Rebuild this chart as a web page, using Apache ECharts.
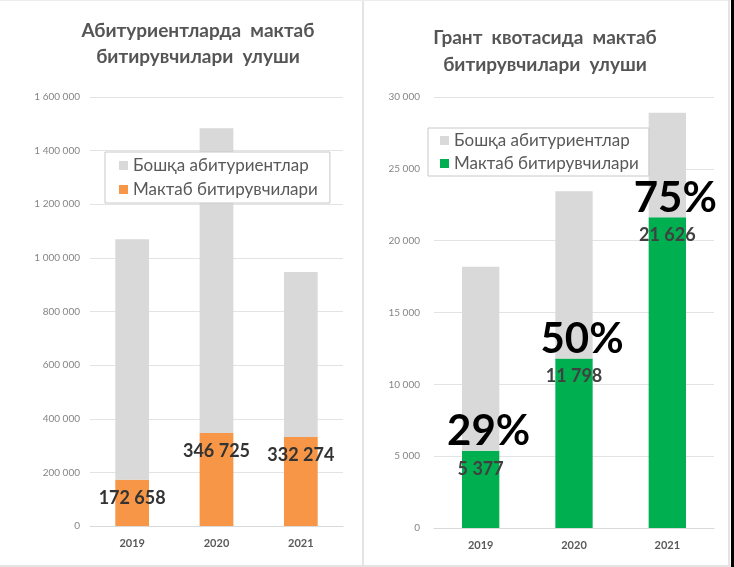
<!DOCTYPE html>
<html>
<head>
<meta charset="utf-8">
<script src="https://cdn.jsdelivr.net/npm/echarts@6/dist/echarts.min.js"></script>
<style>
  html, body { margin: 0; padding: 0; background: #fff; }
  #main { width: 734px; height: 567px; }
</style>
</head>
<body>
<div id="main"></div>
<script>
// years on both charts
var years = ['2019', '2020', '2021'];

// left chart: all applicants
var schoolAll = [172658, 346725, 332274];
var otherAll = [897000, 1137000, 615000];

// right chart: grant quota
var schoolGrant = [5377, 11798, 21626];
var otherGrant = [12800, 11650, 7270];
var grantPct = ['29%', '50%', '75%'];

var nameOther = 'Бошқа абитуриентлар';
var nameSchool = 'Мактаб битирувчилари';

function spaced(v) {
    return String(v).replace(/\B(?=(\d{3})+(?!\d))/g, ' ');
}

var myChart = echarts.init(document.getElementById('main'));

var axisLabelY = { color: '#858585', fontSize: 10, formatter: spaced };
var splitLineY = { lineStyle: { color: '#e3e3e3', width: 1 } };
var xAxisBase = {
    type: 'category',
    data: years,
    axisLine: { lineStyle: { color: '#d9d9d9' } },
    axisTick: { show: false },
    axisLabel: { color: '#595959', fontSize: 11, fontWeight: 'bold', margin: 12 }
};

var option = {
    textStyle: { fontFamily: 'Lato' },
    title: [{
        text: 'Абитуриентларда  мактаб\nбитирувчилари  улуши',
        left: 193, top: 13, textAlign: 'center',
        textStyle: { fontSize: 19, fontWeight: 'bold', color: '#555', lineHeight: 26 }
    }, {
        text: 'Грант  квотасида  мактаб\nбитирувчилари  улуши',
        left: 540, top: 19, textAlign: 'center',
        textStyle: { fontSize: 19, fontWeight: 'bold', color: '#555', lineHeight: 27 }
    }],
    legend: [{
        data: [nameOther, nameSchool],
        left: 105, top: 152,
        orient: 'vertical',
        itemWidth: 9, itemHeight: 9, itemGap: 7,
        padding: [5, 12, 5, 14],
        backgroundColor: '#fff',
        borderColor: '#c8c8c8', borderWidth: 1,
        icon: 'rect',
        selectedMode: false,
        textStyle: { fontSize: 17, color: '#595959' }
    }, {
        data: [nameOther + ' ', nameSchool + ' '],
        left: 428, top: 128,
        orient: 'vertical',
        itemWidth: 9, itemHeight: 9, itemGap: 6,
        padding: [4, 10, 4, 12],
        backgroundColor: '#fff',
        borderColor: '#c8c8c8', borderWidth: 1,
        icon: 'rect',
        selectedMode: false,
        textStyle: { fontSize: 17, color: '#595959' },
        formatter: function (n) { return n.trim(); }
    }],
    grid: [
        { left: 90, right: 391, top: 97, bottom: 41 },
        { left: 434, right: 20, top: 97, bottom: 39 }
    ],
    xAxis: [
        Object.assign({ gridIndex: 0 }, xAxisBase),
        Object.assign({ gridIndex: 1 }, xAxisBase)
    ],
    yAxis: [{
        gridIndex: 0, type: 'value', min: 0, max: 1600000, interval: 200000,
        axisLabel: Object.assign({ margin: 10 }, axisLabelY), splitLine: splitLineY
    }, {
        gridIndex: 1, type: 'value', min: 0, max: 30000, interval: 5000,
        axisLabel: Object.assign({ margin: 14 }, axisLabelY), splitLine: splitLineY
    }],
    series: [{
        name: nameSchool, type: 'bar', stack: 'all', barWidth: '40%',
        xAxisIndex: 0, yAxisIndex: 0,
        itemStyle: { color: '#f79646' },
        label: {
            show: true, position: 'insideTop', distance: 9,
            fontSize: 18, fontWeight: 'bold', color: '#333',
            formatter: function (p) { return spaced(p.value); }
        },
        data: schoolAll
    }, {
        name: nameOther, type: 'bar', stack: 'all', barWidth: '40%',
        xAxisIndex: 0, yAxisIndex: 0,
        itemStyle: { color: '#d9d9d9' },
        data: otherAll
    }, {
        name: nameSchool + ' ', type: 'bar', stack: 'grant', barWidth: '40%',
        xAxisIndex: 1, yAxisIndex: 1,
        itemStyle: { color: '#00b050' },
        label: {
            show: true, position: 'insideTop', distance: 5, offset: [0, -44],
            formatter: function (p) {
                return '{p|' + grantPct[p.dataIndex] + '}\n{n|' + spaced(p.value) + '}';
            },
            rich: {
                p: { fontSize: 42, fontWeight: 'bold', color: '#000', lineHeight: 40, padding: [0, 0, 0, 16] },
                n: { fontSize: 18, fontWeight: 'bold', color: '#404040', lineHeight: 34 }
            }
        },
        data: schoolGrant
    }, {
        name: nameOther + ' ', type: 'bar', stack: 'grant', barWidth: '40%',
        xAxisIndex: 1, yAxisIndex: 1,
        itemStyle: { color: '#d9d9d9' },
        data: otherGrant
    }],
    graphic: [
        { type: 'rect', shape: { x: 362, y: 0, width: 2, height: 567 }, style: { fill: '#e4e4e4' } },
        { type: 'rect', shape: { x: 0, y: 0, width: 731, height: 1 }, style: { fill: '#ececec' } },
        { type: 'rect', shape: { x: 0, y: 565, width: 731, height: 2 }, style: { fill: '#e4e4e4' } },
        { type: 'rect', shape: { x: 728, y: 0, width: 2, height: 567 }, style: { fill: '#e4e4e4' } },
        { type: 'rect', shape: { x: 731, y: 0, width: 3, height: 567 }, style: { fill: '#000' } }
    ]
};

myChart.setOption(option);
</script>
</body>
</html>
